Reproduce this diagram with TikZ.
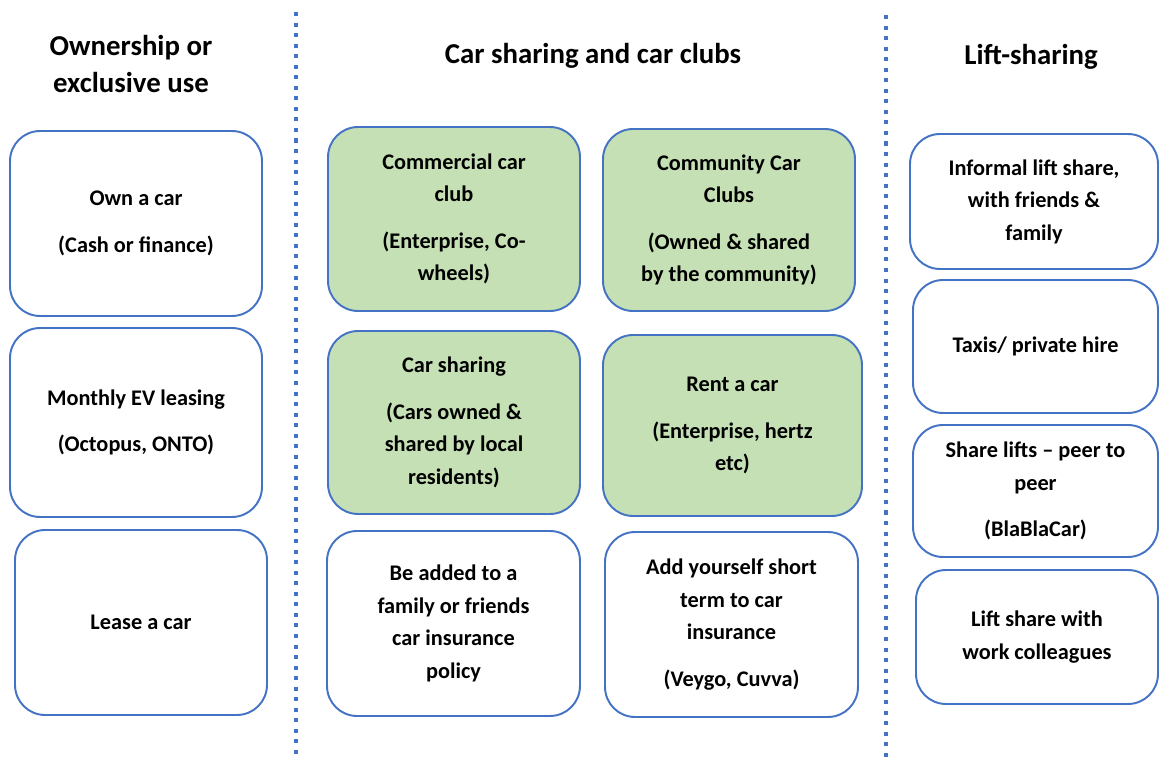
\documentclass[tikz,border=0pt]{standalone}
\usepackage{fontspec}
\setmainfont{Carlito}
\usepackage{xcolor}
\usepackage{tikz}
\usetikzlibrary{positioning, calc}

\definecolor{boxblue}{HTML}{4472C4}
\definecolor{clubgreen}{HTML}{C5E0B4}

\begin{document}
\begin{tikzpicture}[x=0.02cm, y=-0.02cm,
    option/.style={draw=boxblue, line width=1.1pt, rounded corners=0.6cm, fill=white,
        align=center, inner sep=0pt, minimum width=5.04cm,
        font=\fontsize{12.7}{18.5}\selectfont\bfseries},
    club/.style={option, fill=clubgreen},
    heading/.style={align=center, font=\fontsize{16.4}{20.5}\selectfont\bfseries},
    divider/.style={draw=boxblue, line width=2.3pt, dash pattern=on 2.3pt off 3.7pt}]
    \useasboundingbox (0,0) rectangle (1161,757);

    % Headings
    \node (ownhead) [heading] at (131,64) {Ownership or\\exclusive use};
    \node (clubhead) [heading] at (593,56) {Car sharing and car clubs};
    \node (lifthead) [heading] at (1031,57) {Lift-sharing};

    % Column dividers
    \coordinate (leftdivtop) at (296,12);
    \coordinate (leftdivbot) at (296,757);
    \coordinate (rightdivtop) at (886,15);
    \coordinate (rightdivbot) at (886,757);
    \draw[divider] (leftdivtop) -- (leftdivbot);
    \draw[divider] (rightdivtop) -- (rightdivbot);

    % Ownership column
    \node (owncar) [option, minimum height=3.7cm] at (136,223.5) {Own a car\\[8pt](Cash or finance)};
    \node (evlease) [option, minimum height=3.78cm] at (136,422.5) {Monthly EV leasing\\[8pt](Octopus, ONTO)};
    \node (leasecar) [option, minimum height=3.7cm] at (141,622.5) {Lease a car};

    % Car sharing and car clubs
    \node (commercial) [club, minimum height=3.68cm] at (454,219) {Commercial car\\club\\[8pt](Enterprise, Co-\\wheels)};
    \node (community) [club, minimum height=3.64cm] at (729,220) {Community Car\\Clubs\\[8pt](Owned \& shared\\by the community)};
    \node (carshare) [club, minimum height=3.66cm] at (454,422.5) {Car sharing\\[8pt](Cars owned \&\\shared by local\\residents)};
    \node (rentcar) [club, minimum width=5.18cm, minimum height=3.62cm] at (732.5,425.5) {Rent a car\\[8pt](Enterprise, hertz\\etc)};
    \node (addfamily) [option, minimum width=5.06cm, minimum height=3.7cm] at (453.5,623.5) {Be added to a\\family or friends\\car insurance\\policy};
    \node (shortterm) [option, minimum width=5.06cm, minimum height=3.7cm] at (731.5,624.5) {Add yourself short\\term to car\\insurance\\[8pt](Veygo, Cuvva)};

    % Lift-sharing column
    \node (informal) [option, minimum width=4.96cm, minimum height=2.7cm] at (1034,201.5) {Informal lift share,\\with friends \&\\family};
    \node (taxis) [option, minimum width=4.9cm, minimum height=2.66cm] at (1035.5,346.5) {Taxis/ private hire};
    \node (peerlift) [option, minimum width=4.9cm, minimum height=2.64cm] at (1035.5,491) {Share lifts -- peer to\\peer\\[8pt](BlaBlaCar)};
    \node (worklift) [option, minimum width=4.84cm, minimum height=2.68cm] at (1037,637) {Lift share with\\work colleagues};
\end{tikzpicture}
\end{document}
